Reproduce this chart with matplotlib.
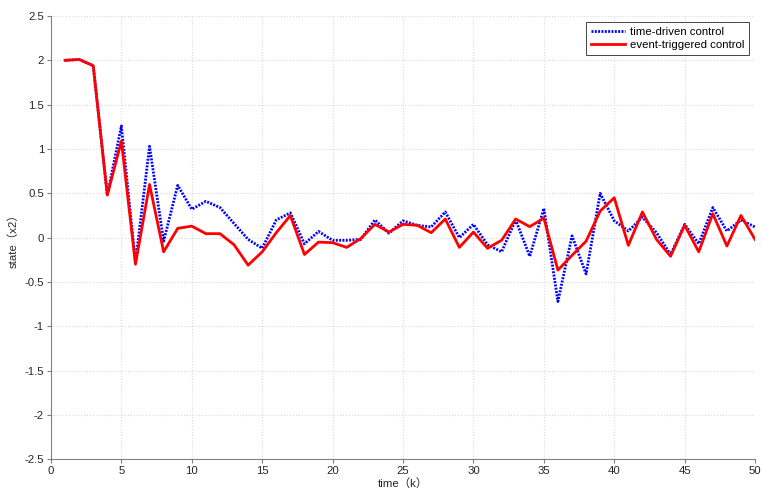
import matplotlib
matplotlib.use("Agg")
import matplotlib.pyplot as plt
import numpy as np

plt.rcParams['font.family'] = ['Liberation Sans', 'Noto Sans CJK SC', 'DejaVu Sans']

k = np.arange(1, 51)

time_driven = [2.00, 2.01, 1.94, 0.48, 1.26, -0.28, 1.03, -0.04, 0.59, 0.32,
               0.41, 0.34, 0.16, -0.02, -0.12, 0.20, 0.28, -0.07, 0.07, -0.03,
               -0.03, -0.02, 0.20, 0.05, 0.19, 0.14, 0.12, 0.29, 0.00, 0.15,
               -0.08, -0.16, 0.20, -0.21, 0.33, -0.72, 0.02, -0.41, 0.50, 0.19,
               0.075, 0.23, 0.056, -0.19, 0.15, -0.07, 0.34, 0.075, 0.20, 0.12]

event_triggered = [2.00, 2.01, 1.94, 0.48, 1.09, -0.30, 0.60, -0.16, 0.105, 0.13,
                   0.045, 0.045, -0.08, -0.31, -0.16, 0.056, 0.25, -0.19, -0.05, -0.057,
                   -0.11, -0.01, 0.15, 0.063, 0.15, 0.14, 0.056, 0.21, -0.11, 0.063,
                   -0.12, -0.03, 0.21, 0.124, 0.22, -0.366, -0.20, -0.04, 0.30, 0.45,
                   -0.087, 0.29, -0.02, -0.21, 0.14, -0.16, 0.27, -0.095, 0.25, -0.02]

x_ticks = np.arange(0, 51, 5)
y_ticks = np.arange(-2.5, 2.51, 0.5)

fig = plt.figure(figsize=(7.62, 4.90), dpi=100)
ax = fig.add_axes([0.0669, 0.0627, 0.9240, 0.9046])

ax.plot(k, time_driven, color='#0000ff', linestyle=(0, (0.7, 0.5)), linewidth=2.0,
        label='time-driven control', zorder=3)
ax.plot(k, event_triggered, color='#ff0000', linestyle='-', linewidth=2.0,
        label='event-triggered control', zorder=4)

ax.set_xlim(0, 50)
ax.set_ylim(-2.5, 2.5)
ax.set_xticks(x_ticks)
ax.set_yticks(y_ticks)
ax.set_yticklabels([f'{v:g}' for v in y_ticks])

ax.grid(True, color='#d9d9d9', linestyle=':', linewidth=0.8)
ax.set_axisbelow(True)

for side in ('top', 'right'):
    ax.spines[side].set_visible(False)
for side in ('left', 'bottom'):
    ax.spines[side].set_color('#808080')
    ax.spines[side].set_linewidth(0.8)

ax.tick_params(direction='out', length=3, width=0.8, color='#808080',
               labelsize=8.2, labelcolor='#262626', pad=2)

ax.set_xlabel('time（k）', fontsize=8.2, color='#262626', labelpad=1)
ax.set_ylabel('state（x2）', fontsize=8.2, color='#262626', labelpad=4)

leg = ax.legend(loc='upper right', fontsize=8.2, fancybox=False, framealpha=1,
                edgecolor='#262626', borderpad=0.45, handlelength=3.0,
                handletextpad=0.4, labelspacing=0.3, borderaxespad=0.5)
leg.get_frame().set_linewidth(0.6)

fig.savefig('out.png', dpi=100)
